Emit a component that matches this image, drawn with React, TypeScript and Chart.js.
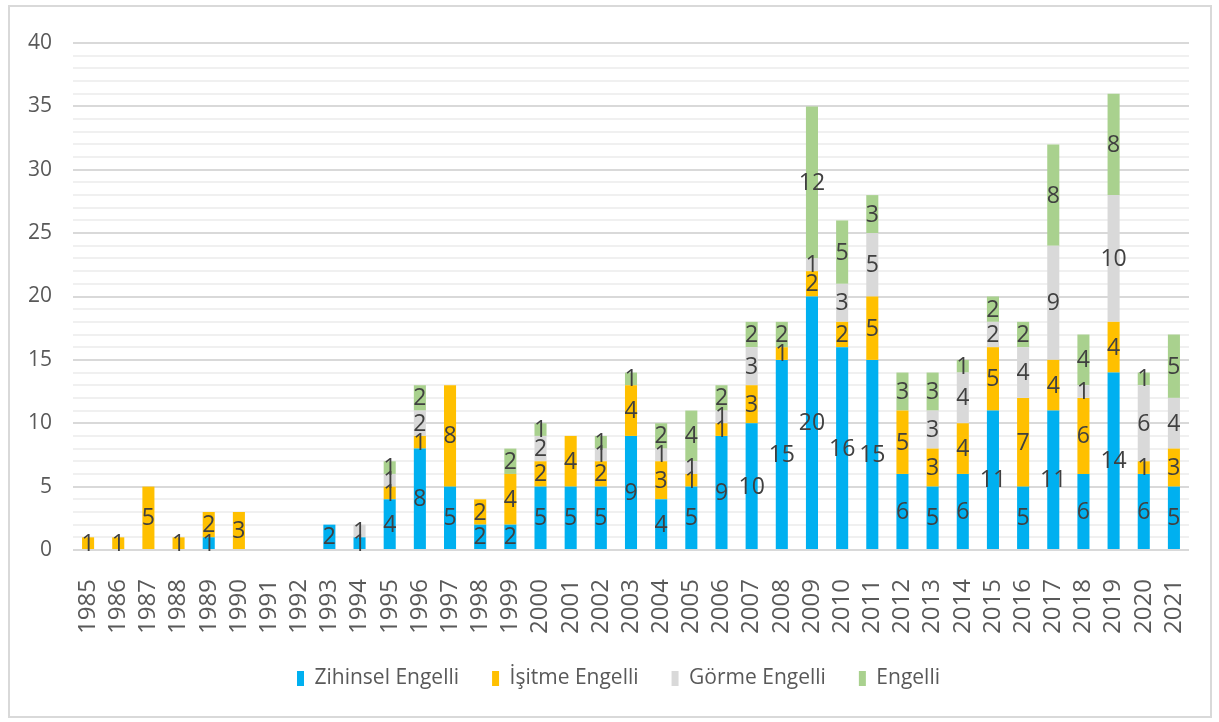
import React, { useEffect, useRef } from "react";
import { Chart, registerables } from "chart.js";

Chart.register(...registerables);

const years = [
  "1985","1986","1987","1988","1989","1990","1991","1992","1993","1994",
  "1995","1996","1997","1998","1999","2000","2001","2002","2003","2004",
  "2005","2006","2007","2008","2009","2010","2011","2012","2013","2014",
  "2015","2016","2017","2018","2019","2020","2021",
];
const zihinsel = [0,0,0,0,1,0,0,0,2,1,4,8,5,2,2,5,5,5,9,4,5,9,10,15,20,16,15,6,5,6,11,5,11,6,14,6,5];
const isitme =   [1,1,5,1,2,3,0,0,0,0,1,1,8,2,4,2,4,2,4,3,1,1,3,1,2,2,5,5,3,4,5,7,4,6,4,1,3];
const gorme =    [0,0,0,0,0,0,0,0,0,1,1,2,0,0,0,2,0,1,0,1,1,1,3,0,1,3,5,0,3,4,2,4,9,1,10,6,4];
const engelli =  [0,0,0,0,0,0,0,0,0,0,1,2,0,0,2,1,0,1,1,2,4,2,2,2,12,5,3,3,3,1,2,2,8,4,8,1,5];

const seriesNames = ["Zihinsel Engelli", "İşitme Engelli", "Görme Engelli", "Engelli"];
const seriesColors = ["#00b0f0", "#ffc000", "#d9d9d9", "#a9d18e"];

const FONT = "'Open Sans', 'DejaVu Sans', sans-serif";

const labelPlugin = {
  id: "segLabels",
  afterLayout(chart: any) {
    const lg = chart.legend;
    if (lg) {
      lg.left += 38;
    }
  },
  afterDatasetsDraw(chart: any) {
    const ctx = chart.ctx;
    ctx.save();
    ctx.fillStyle = "#404040";
    ctx.font = `23px ${FONT}`;
    ctx.textAlign = "center";
    ctx.textBaseline = "middle";
    chart.data.datasets.forEach((ds: any, i: number) => {
      const meta = chart.getDatasetMeta(i);
      meta.data.forEach((bar: any, j: number) => {
        const v = ds.data[j];
        if (!v) return;
        const p = bar.getProps(["x", "y", "base"], true);
        ctx.fillText(String(v), p.x, (p.y + p.base) / 2 + 1);
      });
    });
    ctx.restore();
  },
};

export default function App() {
  const ref = useRef<HTMLCanvasElement>(null);
  useEffect(() => {
    if (!ref.current) return;
    const data = [zihinsel, isitme, gorme, engelli];
    const chart = new Chart(ref.current, {
      type: "bar",
      data: {
        labels: years,
        datasets: data.map((d, i) => ({
          label: seriesNames[i],
          data: d,
          backgroundColor: seriesColors[i],
          borderWidth: 0,
          barPercentage: 0.4,
          categoryPercentage: 1,
        })),
      },
      options: {
        animation: false,
        responsive: false,
        maintainAspectRatio: false,
        layout: { padding: { top: 36, right: 21, left: 0, bottom: 17 } },
        plugins: {
          legend: {
            position: "bottom",
            labels: {
              boxWidth: 7,
              boxHeight: 15,
              color: "#595959",
              font: { family: FONT, size: 21 },
              padding: 33,
            },
          },
          tooltip: { enabled: false },
        },
        scales: {
          x: {
            stacked: true,
            grid: { display: false },
            border: { display: false },
            ticks: {
              color: "#595959",
              font: { family: FONT, size: 24 },
              minRotation: 90,
              maxRotation: 90,
              autoSkip: false,
              padding: 21,
            },
            afterFit(scale: any) {
              scale.height = 85;
              scale.paddingRight = 0;
              scale.paddingLeft = 0;
            },
          },
          y: {
            stacked: true,
            min: 0,
            max: 40,
            border: { display: false },
            grid: {
              drawTicks: false,
              color: (c: any) => (c.tick && c.tick.value % 5 === 0 ? "#d9d9d9" : "#f0f0f0"),
              lineWidth: 2,
            },
            ticks: {
              stepSize: 1,
              autoSkip: false,
              color: "#595959",
              font: { family: FONT, size: 21 },
              padding: 21,
              callback: (v: any) => (Number(v) % 5 === 0 ? String(v) : ""),
            },
            afterFit(scale: any) {
              scale.width = 63;
              scale.paddingTop = 0;
              scale.paddingBottom = 0;
            },
          },
        },
      },
      plugins: [labelPlugin],
    });
    return () => chart.destroy();
  }, []);
  return (
    <div
      style={{
        position: "absolute",
        left: 8,
        top: 5,
        width: 1204,
        height: 713,
        boxSizing: "border-box",
        border: "2px solid #d9d9d9",
        background: "#fff",
      }}
    >
      <canvas ref={ref} width={1200} height={709} style={{ display: "block" }} />
    </div>
  );
}
